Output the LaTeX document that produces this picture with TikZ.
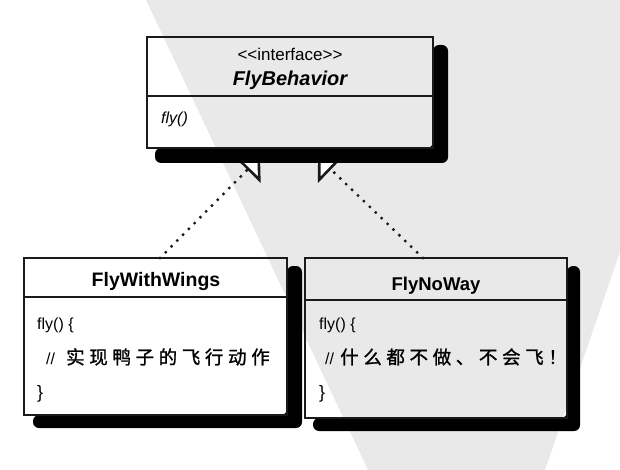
\documentclass[tikz,border=0pt]{standalone}
\usepackage{fontspec}
\setmainfont{Liberation Sans}
\setsansfont{Liberation Sans}
\newfontfamily\cjkfont[LetterSpace=25, FakeBold=1.2]{Noto Sans CJK SC}
\usetikzlibrary{arrows.meta}
\definecolor{wm}{HTML}{E9E9E9}
\definecolor{ink}{HTML}{1A1A1A}
\tikzset{
  umlbox/.style={draw=ink, line width=1.5pt, anchor=north west, inner sep=0pt, outer sep=0pt},
  shadowfill/.style={fill=black, rounded corners=6pt},
  realize/.style={ink, line width=3.3pt, dash pattern=on 0pt off 8.2pt, line cap=round,
    -{Triangle[open, fill=white, length=18pt, width=37pt, line width=2.6pt]}},
  divider/.style={draw=ink, line width=1.5pt},
  stereo/.style={font=\fontsize{17}{20}\selectfont, anchor=base, inner sep=0pt},
  cname/.style={font=\bfseries\fontsize{19.5}{22}\selectfont, anchor=base, inner sep=0pt},
  body/.style={font=\fontsize{16}{18}\selectfont, anchor=base west, inner sep=0pt},
  cjkline/.style={font=\fontsize{18.5}{22}\selectfont, anchor=base west, inner sep=0pt},
}
\begin{document}
\begin{tikzpicture}[x=1pt,y=-1pt]
\useasboundingbox (0,0) rectangle (620,470);
% background watermark of the scan
\fill[wm] (146,0) -- (620,0) -- (620,252) -- (545,470) -- (368,470) -- cycle;

% coordinates of the arrow ends
\coordinate (ltip) at (260,157);
\coordinate (rtip) at (318,157);
\coordinate (lstart) at (160,258);
\coordinate (rstart) at (423,258);

% realization connectors (drawn first; shadow covers the tips)
\draw[realize] (lstart) -- (ltip);
\draw[realize] (rstart) -- (rtip);

% shadows
\fill[shadowfill] (433,45) -- (448,45) -- (448,163) -- (155,163) -- (155,148) -- (433,148) -- cycle;
\fill[shadowfill] (287,266) -- (302,266) -- (302,428) -- (33,428) -- (33,415) -- (287,415) -- cycle;
\fill[shadowfill] (567,266) -- (580,266) -- (580,431) -- (313,431) -- (313,418) -- (567,418) -- cycle;

% boxes
\node[umlbox, minimum width=286pt, minimum height=111pt] (fb) at (147,37) {};
\node[umlbox, minimum width=263pt, minimum height=157pt] (fww) at (24,258) {};
\node[umlbox, minimum width=262pt, minimum height=160pt] (fnw) at (305,258) {};
\draw[divider] (fb.west |- 0,96) -- (fb.east |- 0,96);
\draw[divider] (fww.west |- 0,297) -- (fww.east |- 0,297);
\draw[divider] (fnw.west |- 0,300) -- (fnw.east |- 0,300);

% texts: FlyBehavior
\node[stereo] (st) at (290,61) {<\kern0pt<interface>\kern0pt>};
\node[cname, font=\bfseries\itshape\fontsize{20}{22}\selectfont] (fbn) at (290,86) {FlyBehavior};
\node[body, font=\itshape\fontsize{16}{18}\selectfont] (fbm) at (161,124) {fly()};

% FlyWithWings
\node[cname] (fwwn) at (156,286) {FlyWithWings};
\node[body] (fww1) at (37,329) {fly() \{};
\node[body] (fww2) at (46,364) {//};
\node[cjkline] (fww3) at (66,364) {\cjkfont 实现鸭子的飞行动作};
\node[body, font=\fontsize{18}{20}\selectfont] (fww4) at (37,398) {\}};

% FlyNoWay
\node[cname, font=\bfseries\fontsize{18.5}{22}\selectfont] (fnwn) at (436,290) {FlyNoWay};
\node[body] (fnw1) at (319,329) {fly() \{};
\node[body] (fnw2) at (325,364) {//};
\node[cjkline] (fnw3) at (340,364) {\cjkfont 什么都不做、不会飞！};
\node[body, font=\fontsize{18}{20}\selectfont] (fnw4) at (319,398) {\}};
\end{tikzpicture}
\end{document}
